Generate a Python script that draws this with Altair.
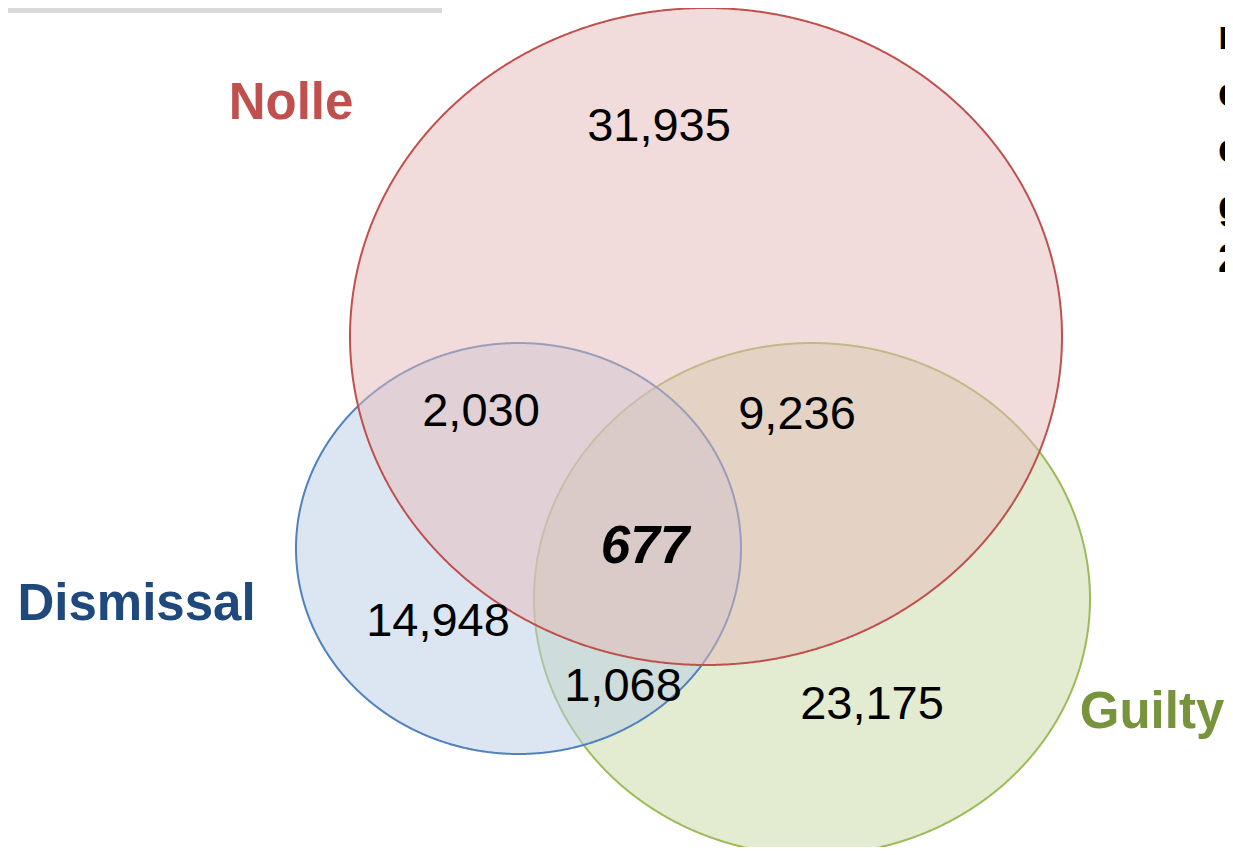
import numpy as np
import pandas as pd
import altair as alt

# ---- data ----
set_names = ["Guilty", "Dismissal", "Nolle"]
set_cx = [812, 518.5, 706]
set_cy = [599, 548.5, 336.5]
set_rx = [278, 222.5, 356]
set_ry = [256, 205.5, 328.5]
set_fill = ["#d7e4bd", "#b9cde5", "#e6b9b8"]
set_fill_opacity = [0.7, 0.5, 0.5]
set_stroke = ["#9bbb59", "#4f81bd", "#c0504d"]

count_labels = ["31,935", "2,030", "9,236", "14,948", "1,068", "23,175"]
count_x = [659, 481, 797, 438, 623, 872]
count_y = [127, 412, 415, 622, 687, 705]

center_label = ["677"]
center_x = [645]
center_y = [547]

name_labels = ["Nolle", "Dismissal", "Guilty"]
name_x = [291, 136.5, 1152]
name_y = [104, 605, 713]
name_colors = ["#c0504d", "#1f497d", "#77933c"]

edge_text = ["n", "c", "c", "g", "2"]
edge_y = [37, 94, 150, 207, 260]

W, H = 1217, 839
xs = alt.Scale(domain=[8, 8 + W], nice=False, zero=False)
ys = alt.Scale(domain=[8, 8 + H], nice=False, zero=False, reverse=True)
X = lambda f: alt.X(f, type="quantitative", scale=xs, axis=None)
Y = lambda f: alt.Y(f, type="quantitative", scale=ys, axis=None)

layers = []
# top gray bar
bar = pd.DataFrame({"x": [0], "x2": [442], "y": [0], "y2": [13]})
layers.append(alt.Chart(bar).mark_rect(color="#d9d9d9").encode(
    x=X("x"), x2="x2", y=Y("y"), y2="y2"))

t = np.linspace(np.pi, 0, 721)
for n, cx, cy, rx, ry, f, fo, s in zip(set_names, set_cx, set_cy, set_rx, set_ry,
                                        set_fill, set_fill_opacity, set_stroke):
    df = pd.DataFrame({
        "x": cx + rx * np.cos(t),
        "y": cy - ry * np.sin(t),
        "y2": cy + ry * np.sin(t),
    })
    layers.append(alt.Chart(df).mark_area(
        fill=f, fillOpacity=fo, stroke=s, strokeWidth=2, interpolate="linear"
    ).encode(x=X("x"), y=Y("y"), y2="y2"))

cnt = pd.DataFrame({"t": count_labels, "x": count_x, "y": count_y})
layers.append(alt.Chart(cnt).mark_text(
    font="Liberation Sans", fontSize=47, color="black", align="center", baseline="middle"
).encode(x=X("x"), y=Y("y"), text="t"))

ctr = pd.DataFrame({"t": center_label, "x": center_x, "y": center_y})
layers.append(alt.Chart(ctr).mark_text(
    font="Liberation Sans", fontSize=53, fontWeight="bold", fontStyle="italic",
    color="black", align="center", baseline="middle"
).encode(x=X("x"), y=Y("y"), text="t"))

nm = pd.DataFrame({"t": name_labels, "x": name_x, "y": name_y, "c": name_colors})
layers.append(alt.Chart(nm).mark_text(
    font="Liberation Sans", fontSize=51, fontWeight="bold", align="center", baseline="middle"
).encode(x=X("x"), y=Y("y"), text="t", color=alt.Color("c", scale=None)))

ed = pd.DataFrame({"t": edge_text, "x": [1218] * len(edge_text), "y": edge_y})
layers.append(alt.Chart(ed).mark_text(
    font="Liberation Sans", fontSize=40, fontWeight="bold", color="black",
    align="left", baseline="middle"
).encode(x=X("x"), y=Y("y"), text="t"))

chart = alt.layer(*layers).properties(
    width=W, height=H, padding=0, autosize=alt.AutoSizeParams(type="none")
).configure_view(stroke=None)

chart.save("out.html", embed_options={"renderer": "svg", "actions": False})
